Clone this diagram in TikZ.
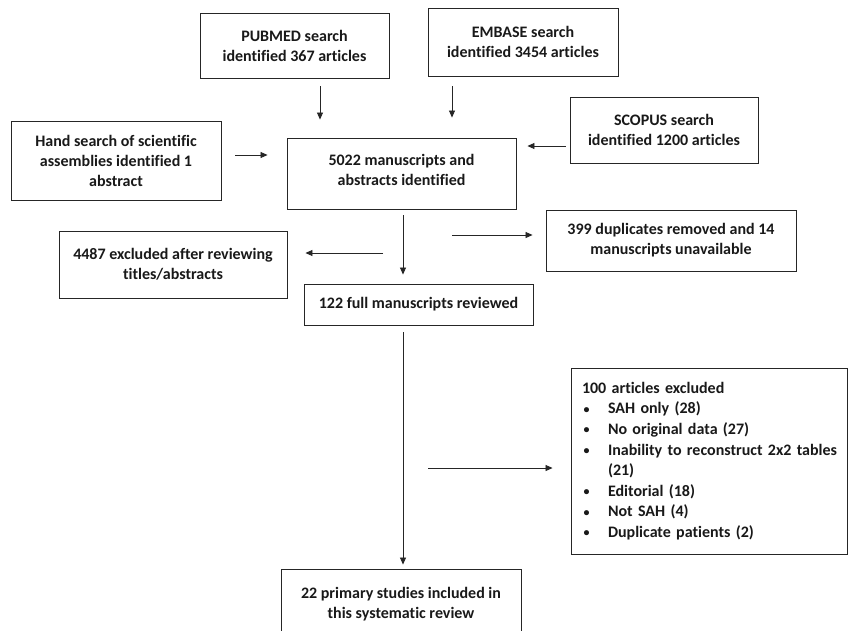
\documentclass[tikz,border=0pt]{standalone}
\usepackage{fontspec}
\setmainfont{Carlito}[Ligatures=NoCommon]
\usetikzlibrary{arrows.meta,calc}
\newcommand{\blt}{\makebox[26pt][l]{\hspace{1.5pt}\raisebox{0.5pt}{\fontsize{12}{12}\selectfont\textbullet}}}
\begin{document}
\begin{tikzpicture}[x=1pt,y=-1pt,
  box/.style={draw=black!85, line width=0.9pt, inner sep=0pt, align=center,
    font=\bfseries\fontsize{16}{20}\selectfont, text=black!90},
  arr/.style={draw=black!85, line width=0.8pt, -{Triangle[length=7pt,width=6pt]}}]
\clip (0,0) rectangle (848,630);
\fill[white] (0,0) rectangle (848,630);
% boxes
\node[box, minimum width=189pt, minimum height=65pt] (pub) at (294.5,45.5) {PUBMED search\\identified 367 articles};
\node[box, minimum width=190pt, minimum height=68pt] (emb) at (523,42) {EMBASE search\\identified 3454 articles};
\node[box, minimum width=210pt, minimum height=79pt] (hand) at (116,160.5) {Hand search of scientific\\assemblies identified 1\\abstract};
\node[box, minimum width=229pt, minimum height=71pt] (m5022) at (401.5,173.5) {5022 manuscripts and\\abstracts identified\\[-13pt]};
\node[box, minimum width=188pt, minimum height=66pt] (scop) at (664,130) {SCOPUS search\\identified 1200 articles};
\node[box, minimum width=228pt, minimum height=67pt] (excl) at (173,264.5) {4487 excluded after reviewing\\titles/abstracts};
\node[box, minimum width=250pt, minimum height=61pt] (dup) at (671,240.5) {399 duplicates removed and 14\\manuscripts unavailable};
\node[box, minimum width=229pt, minimum height=41pt] (full) at (418.5,304.5) {122 full manuscripts reviewed};
\node[box, minimum width=276pt, minimum height=186pt, text width=254pt, align=left,
  font=\bfseries\fontsize{16}{20.6}\selectfont] (ex100) at (709,461)
  {100 articles excluded\\
   \blt SAH only (28)\\
   \blt No original data (27)\\
   \mbox{\blt Inability to reconstruct 2x2 tables}\\
   \hspace*{26pt}(21)\\
   \blt Editorial (18)\\
   \blt Not SAH (4)\\
   \blt Duplicate patients (2)};
\node[box, minimum width=240pt, minimum height=70pt] (incl) at (401,604) {22 primary studies included in\\this systematic review};
% helper coordinates
\coordinate (xp) at (320,0);
\coordinate (xe) at (452,0);
\coordinate (yh) at (0,155);
\coordinate (ys) at (0,146);
\coordinate (xm) at (403,0);
\coordinate (l1) at (383,253);
\coordinate (r1) at (452,235);
\coordinate (r2) at (428,468);
% connectors
\draw[arr, shorten <=8pt, shorten >=18pt] (pub.south -| xp) -- (m5022.north -| xp);
\draw[arr, shorten <=10pt, shorten >=20pt] (emb.south -| xe) -- (m5022.north -| xe);
\draw[arr, shorten <=14pt, shorten >=19pt] (hand.east |- yh) -- (m5022.west |- yh);
\draw[arr, shorten <=4pt, shorten >=11pt] (scop.west |- ys) -- (m5022.east |- ys);
\draw[arr, shorten <=6pt, shorten >=9pt] (m5022.south -| xm) -- (full.north -| xm);
\draw[arr, shorten >=18pt] (l1) -- (l1 -| excl.east);
\draw[arr, shorten >=13pt] (r1) -- (r1 -| dup.west);
\draw[arr, shorten <=7pt, shorten >=4pt] (full.south -| xm) -- (incl.north -| xm);
\draw[arr, shorten >=18pt] (r2) -- (r2 -| ex100.west);
\end{tikzpicture}
\end{document}
